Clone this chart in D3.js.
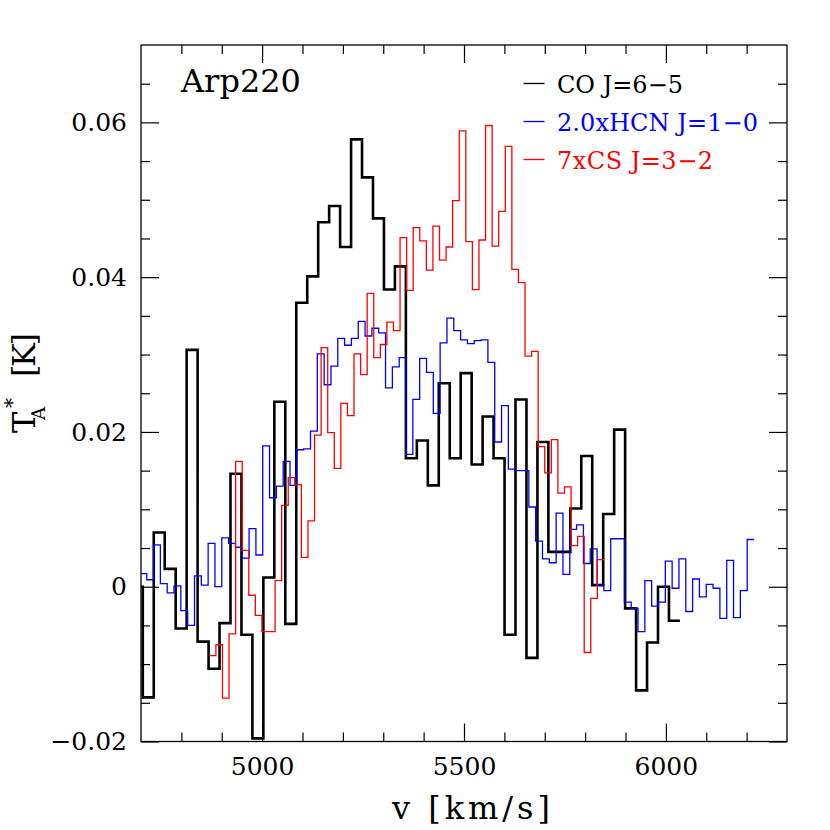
<!DOCTYPE html>
<html>
<head>
<meta charset="utf-8">
<script src="https://cdn.jsdelivr.net/npm/d3@7"></script>
<style>
html, body { margin: 0; padding: 0; background: #fff; }
svg { display: block; }
</style>
</head>
<body>
<div id="chart"></div>
<script>
// ---------------- data ----------------
const title = "Arp220";
const xLabel = "v [km/s]";
const xDomain = [4700, 6300];
const yDomain = [-0.02, 0.07];
const xMajorTicks = [5000, 5500, 6000];
const xMinorTicks = [4800, 4900, 5100, 5200, 5300, 5400, 5600, 5700, 5800, 5900, 6100, 6200];
const yMajorTicks = [-0.02, 0, 0.02, 0.04, 0.06];
const yMinorTicks = [-0.015, -0.01, -0.005, 0.005, 0.01, 0.015, 0.025, 0.03, 0.035, 0.045, 0.05, 0.055, 0.065];

const seriesNames = ["CO J=6\u22125", "2.0xHCN J=1\u22120", "7xCS J=3\u22122"];
const seriesColors = ["#000000", "#0000ff", "#ff0000"];

// CO J=6-5: first channel left edge (km/s), channel width (km/s), T*A values
const coStart = 4677.3;
const coWidth = 27.15;
const coValues = [
  0.0000, -0.0143, 0.0070, 0.0023, -0.0054, 0.0306, -0.0071, -0.0106, -0.0047, 0.0146,
  -0.0062, -0.0196, 0.0012, 0.0239, -0.0048, 0.0367, 0.0401, 0.0471, 0.0492, 0.0439,
  0.0578, 0.0529, 0.0476, 0.0384, 0.0414, 0.0166, 0.0189, 0.0131, 0.0263, 0.0166,
  0.0276, 0.0158, 0.0220, 0.0166, -0.0062, 0.0242, -0.0092, 0.0187, 0.0045, 0.0045,
  0.0101, 0.0169, 0.0002, 0.0094, 0.0203, -0.0028, -0.0134, -0.0072, 0.0000, -0.0044
];

// 2.0 x HCN J=1-0
const hcnStart = 4697.3;
const hcnWidth = 16.90;
const hcnValues = [
  0.0017, 0.0009, 0.0054, 0.0004, -0.0008, 0.0001, -0.0031, -0.0050, 0.0014, 0.0002,
  0.0056, 0.0000, 0.0063, 0.0056, 0.0051, 0.0037, 0.0075, 0.0041, 0.0182, 0.0115,
  0.0130, 0.0162, 0.0131, 0.0177, 0.0178, 0.0201, 0.0301, 0.0261, 0.0285, 0.0321,
  0.0312, 0.0321, 0.0343, 0.0324, 0.0334, 0.0328, 0.0257, 0.0284, 0.0296, 0.0171,
  0.0242, 0.0295, 0.0277, 0.0224, 0.0315, 0.0347, 0.0331, 0.0319, 0.0314, 0.0318,
  0.0319, 0.0290, 0.0187, 0.0234, 0.0152, 0.0150, 0.0150, 0.0103, 0.0059, 0.0036,
  0.0031, 0.0095, 0.0016, 0.0074, 0.0080, 0.0030, 0.0049, 0.0002, -0.0005, 0.0062,
  0.0062, -0.0020, -0.0028, -0.0058, 0.0008, -0.0025, -0.0020, 0.0033, -0.0002, 0.0036,
  -0.0032, 0.0010, -0.0013, 0.0003, -0.0002, -0.0041, 0.0034, -0.0040, -0.0005, 0.0061
];

// 7 x CS J=3-2
const csStart = 4869.2;
const csWidth = 16.29;
const csValues = [
  -0.0089, -0.0075, -0.0144, -0.0061, 0.0162, 0.0047, -0.0011, -0.0037, -0.0058, -0.0058,
  0.0008, 0.0105, 0.0141, 0.0132, 0.0038, 0.0085, 0.0196, 0.0309, 0.0199, 0.0153,
  0.0237, 0.0221, 0.0301, 0.0274, 0.0379, 0.0296, 0.0313, 0.0342, 0.0331, 0.0451,
  0.0383, 0.0464, 0.0447, 0.0409, 0.0466, 0.0422, 0.0439, 0.0499, 0.0589, 0.0446,
  0.0384, 0.0448, 0.0596, 0.0440, 0.0485, 0.0569, 0.0410, 0.0393, 0.0298, 0.0304,
  0.0181, 0.0147, 0.0190, 0.0121, 0.0129, 0.0053, 0.0065, -0.0085, -0.0015, 0.0035
];

// ---------------- layout ----------------
const W = 830, H = 830;
const plot = { left: 141, right: 787, top: 45, bottom: 741.5 };
const FONT = "'DejaVu Serif', 'Liberation Serif', serif";

const svg = d3.select("#chart").append("svg")
  .attr("width", W).attr("height", H)
  .attr("viewBox", `0 0 ${W} ${H}`);

const x = d3.scaleLinear().domain(xDomain).range([plot.left, plot.right]);
const y = d3.scaleLinear().domain(yDomain).range([plot.bottom, plot.top]);

svg.append("defs").append("clipPath").attr("id", "clip")
  .append("rect")
  .attr("x", plot.left).attr("y", plot.top)
  .attr("width", plot.right - plot.left).attr("height", plot.bottom - plot.top);

// step histogram builder
function stepPoints(start, width, values) {
  const pts = [];
  values.forEach((v, i) => {
    pts.push([start + i * width, v]);
    pts.push([start + (i + 1) * width, v]);
  });
  return pts;
}
const line = d3.line().x(d => x(d[0])).y(d => y(d[1]));

const series = [
  { pts: stepPoints(coStart, coWidth, coValues), color: seriesColors[0], w: 2.6 },
  { pts: stepPoints(hcnStart, hcnWidth, hcnValues), color: seriesColors[1], w: 1.3 },
  { pts: stepPoints(csStart, csWidth, csValues), color: seriesColors[2], w: 1.3 }
];

const gLines = svg.append("g").attr("clip-path", "url(#clip)");
gLines.selectAll("path").data(series).join("path")
  .attr("d", d => line(d.pts))
  .attr("fill", "none")
  .attr("stroke", d => d.color)
  .attr("stroke-width", d => d.w)
  .attr("stroke-linejoin", "miter");

// ---------------- axes ----------------
const MAJ = 18, MIN = 9;
function styleAxis(g) {
  g.select(".domain").remove();
  g.selectAll(".tick line").attr("stroke", "#000").attr("stroke-width", 1.2);
}

const fmtY = d => d === 0 ? "0" : d3.format(".2f")(d);

// bottom
svg.append("g").attr("transform", `translate(0,${plot.bottom})`)
  .call(d3.axisBottom(x).tickValues(xMajorTicks).tickSize(-MAJ).tickFormat(d3.format("d")))
  .call(styleAxis)
  .call(g => g.selectAll(".tick text")
    .attr("y", 33.5).attr("dy", 0)
    .attr("fill", "#000")
    .style("font-family", FONT).style("font-size", "25px"));
svg.append("g").attr("transform", `translate(0,${plot.bottom})`)
  .call(d3.axisBottom(x).tickValues(xMinorTicks).tickSize(-MIN).tickFormat(""))
  .call(styleAxis);

// top
svg.append("g").attr("transform", `translate(0,${plot.top})`)
  .call(d3.axisTop(x).tickValues(xMajorTicks).tickSize(-MAJ).tickFormat(""))
  .call(styleAxis);
svg.append("g").attr("transform", `translate(0,${plot.top})`)
  .call(d3.axisTop(x).tickValues(xMinorTicks).tickSize(-MIN).tickFormat(""))
  .call(styleAxis);

// left
svg.append("g").attr("transform", `translate(${plot.left},0)`)
  .call(d3.axisLeft(y).tickValues(yMajorTicks).tickSize(-MAJ).tickFormat(fmtY))
  .call(styleAxis)
  .call(g => g.selectAll(".tick text")
    .attr("x", -14).attr("dy", "0.33em")
    .attr("fill", "#000")
    .style("font-family", FONT).style("font-size", "25px"));
svg.append("g").attr("transform", `translate(${plot.left},0)`)
  .call(d3.axisLeft(y).tickValues(yMinorTicks).tickSize(-MIN).tickFormat(""))
  .call(styleAxis);

// right
svg.append("g").attr("transform", `translate(${plot.right},0)`)
  .call(d3.axisRight(y).tickValues(yMajorTicks).tickSize(-MAJ).tickFormat(""))
  .call(styleAxis);
svg.append("g").attr("transform", `translate(${plot.right},0)`)
  .call(d3.axisRight(y).tickValues(yMinorTicks).tickSize(-MIN).tickFormat(""))
  .call(styleAxis);

// frame
svg.append("rect")
  .attr("x", plot.left).attr("y", plot.top)
  .attr("width", plot.right - plot.left).attr("height", plot.bottom - plot.top)
  .attr("fill", "none").attr("stroke", "#000").attr("stroke-width", 1.3);

// ---------------- text ----------------
svg.append("text")
  .attr("x", 181).attr("y", 92)
  .attr("fill", "#000")
  .style("font-family", FONT).style("font-size", "32px")
  .text(title);

// x label
svg.append("text")
  .attr("x", 471).attr("y", 819)
  .attr("text-anchor", "middle")
  .attr("textLength", 158).attr("lengthAdjust", "spacing")
  .attr("fill", "#000")
  .style("font-family", FONT).style("font-size", "32px")
  .text(xLabel);

// y label (rotated)
const gy = svg.append("g").attr("transform", "rotate(-90)");
gy.append("text").attr("x", -433).attr("y", 35)
  .style("font-family", FONT).style("font-size", "32px").attr("fill", "#000").text("T");
gy.append("text").attr("x", -420).attr("y", 45)
  .style("font-family", FONT).style("font-size", "18px").attr("fill", "#000").text("A");
gy.append("text").attr("x", -408).attr("y", 19)
  .style("font-family", FONT).style("font-size", "20px").attr("fill", "#000").text("*");
gy.append("text").attr("x", -377).attr("y", 35)
  .attr("textLength", 44).attr("lengthAdjust", "spacing")
  .style("font-family", FONT).style("font-size", "32px").attr("fill", "#000").text("[K]");

// legend
const legendY = [83.5, 121.5, 159.5];
const legendLen = [126, 201, 156];
const gLeg = svg.append("g");
seriesNames.forEach((name, i) => {
  gLeg.append("line")
    .attr("x1", 523.5).attr("x2", 544.5)
    .attr("y1", legendY[i]).attr("y2", legendY[i])
    .attr("stroke", seriesColors[i]).attr("stroke-width", 1.3);
  gLeg.append("text")
    .attr("x", 557).attr("y", legendY[i] + 9.5)
    .attr("textLength", legendLen[i]).attr("lengthAdjust", "spacing")
    .attr("fill", seriesColors[i])
    .style("font-family", FONT).style("font-size", "24px")
    .text(name);
});
</script>
</body>
</html>
